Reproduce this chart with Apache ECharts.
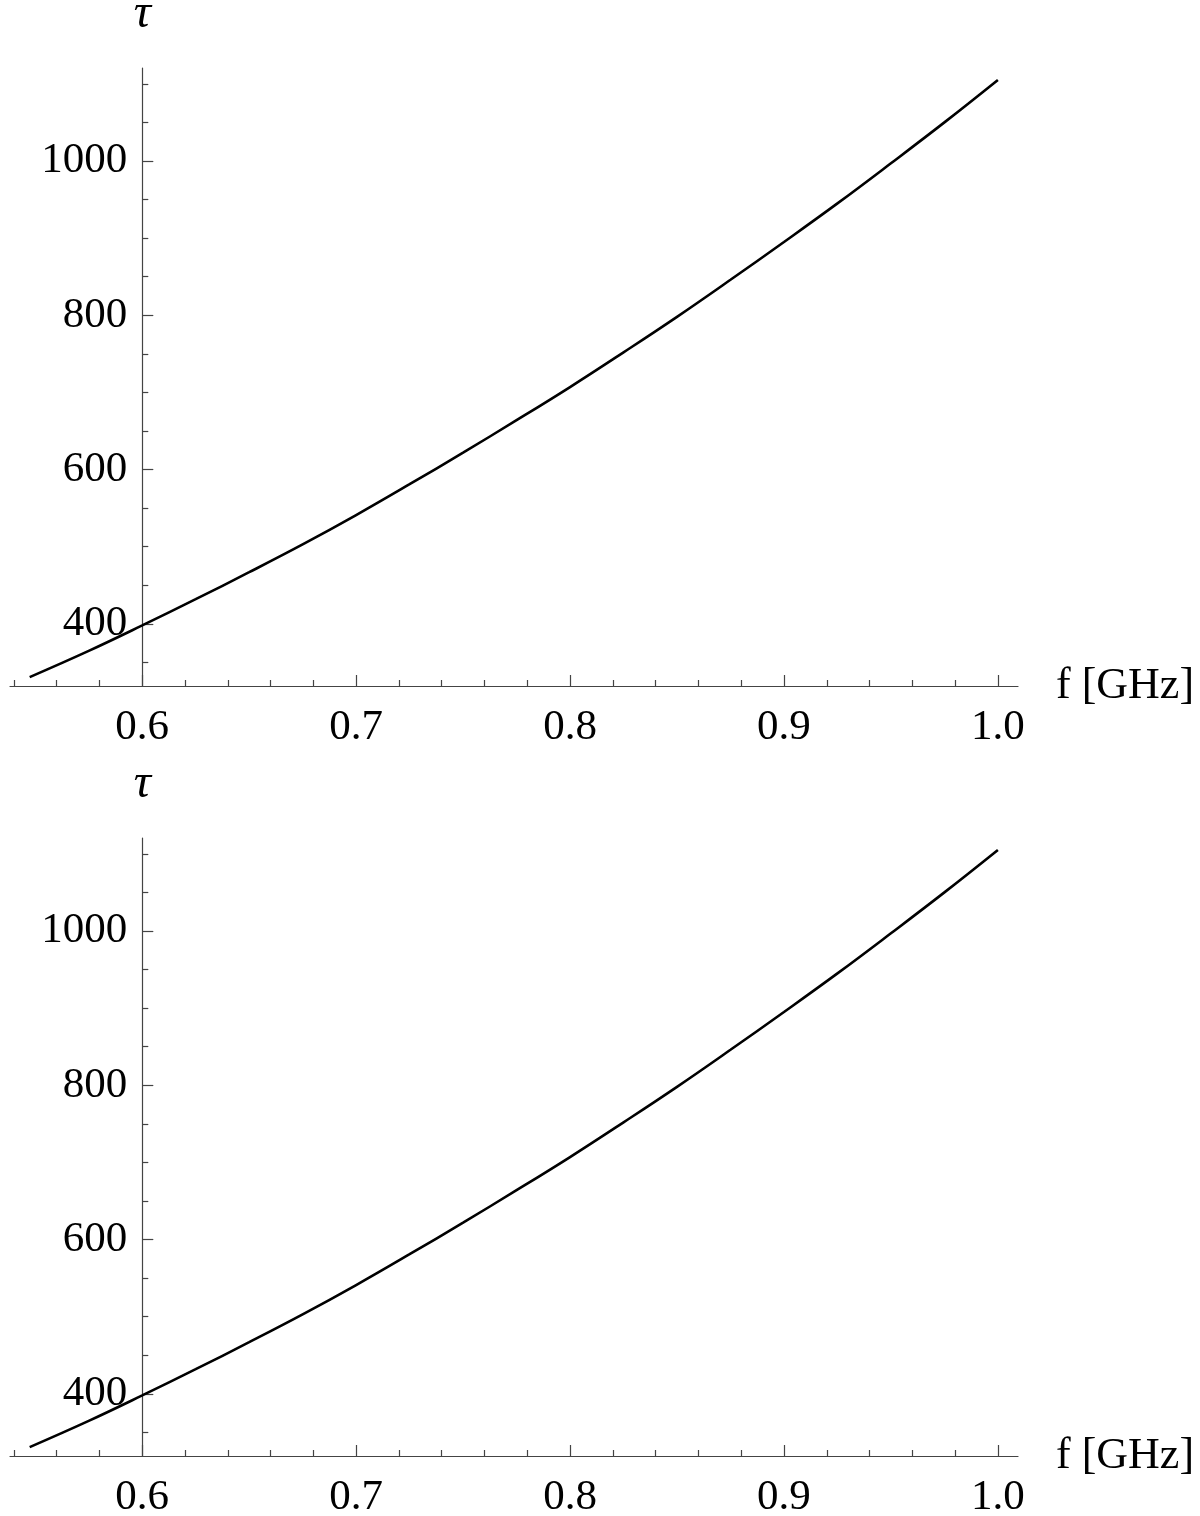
<!DOCTYPE html>
<html>
<head>
<meta charset="utf-8">
<script src="https://cdn.jsdelivr.net/npm/echarts@6/dist/echarts.min.js"></script>
<style>html,body{margin:0;padding:0;background:#fff}#c{width:1200px;height:1516px}</style>
</head>
<body>
<div id="c"></div>
<script>
// Data (both panels show the same curve)
const freq = [0.5474, 0.575, 0.6, 0.625, 0.65, 0.675, 0.7, 0.725, 0.75, 0.775, 0.8, 0.825, 0.85, 0.875, 0.9, 0.925, 0.95, 0.975, 1.0];
const tau  = [331, 365, 398, 432, 467, 503, 541, 581, 622, 664, 707, 752, 798, 846, 895, 945, 997, 1050, 1105];
const xMajorTicks = [0.6, 0.7, 0.8, 0.9, 1.0];
const xMinorTicks = [0.54, 0.56, 0.58, 0.62, 0.64, 0.66, 0.68, 0.72, 0.74, 0.76, 0.78, 0.82, 0.84, 0.86, 0.88, 0.92, 0.94, 0.96, 0.98];
const yMajorTicks = [400, 600, 800, 1000];
const yMinorTicks = [350, 450, 500, 550, 650, 700, 750, 850, 900, 950, 1050, 1100];
const xName = 'f [GHz]';
const yName = 'τ';

const X_MIN = 0.5382, X_MAX = 1.0094, Y_MIN = 319.5, Y_MAX = 1120.5;
const FONT = 'Liberation Serif';
const AX = '#444';
const gridLeft = 10, gridRight = 182, gridH = 618;
const gridTops = [68, 838];
const yOffset = -132.3;

const points = freq.map((f, i) => [f, tau[i]]);

const grids = [], xAxes = [], yAxes = [], series = [];
gridTops.forEach((top, g) => {
  grids.push({ left: gridLeft, right: gridRight, top: top, height: gridH, containLabel: false, outerBoundsMode: 'none' });
  xAxes.push({
    type: 'value', gridIndex: g, min: X_MIN, max: X_MAX, position: 'bottom',
    name: xName, nameLocation: 'end', nameGap: 38,
    nameTextStyle: { fontFamily: FONT, fontSize: 44, color: '#000' },
    axisLine: { show: true, lineStyle: { color: AX, width: 1.2 } },
    axisTick: { show: true, inside: true, length: 11, lineStyle: { color: AX, width: 1.2 }, customValues: xMajorTicks },
    axisLabel: { show: true, margin: 20, fontFamily: FONT, fontSize: 43, color: '#000', customValues: xMajorTicks,
      formatter: v => v.toFixed(1) },
    splitLine: { show: false }
  });
  xAxes.push({
    type: 'value', gridIndex: g, min: X_MIN, max: X_MAX, position: 'bottom',
    axisLine: { show: false },
    axisTick: { show: true, inside: true, length: 6, lineStyle: { color: AX, width: 1.2 }, customValues: xMinorTicks },
    axisLabel: { show: false },
    splitLine: { show: false }
  });
  yAxes.push({
    type: 'value', gridIndex: g, min: Y_MIN, max: Y_MAX, position: 'left', offset: yOffset,
    name: yName, nameLocation: 'end', nameGap: 30,
    nameTextStyle: { fontFamily: FONT, fontSize: 48, fontStyle: 'italic', color: '#000', align: 'center' },
    axisLine: { show: true, lineStyle: { color: AX, width: 1.2 } },
    axisTick: { show: true, inside: true, length: 11, lineStyle: { color: AX, width: 1.2 }, customValues: yMajorTicks },
    axisLabel: { show: true, margin: 15, fontFamily: FONT, fontSize: 43, color: '#000', customValues: yMajorTicks,
      formatter: v => String(v) },
    splitLine: { show: false }
  });
  yAxes.push({
    type: 'value', gridIndex: g, min: Y_MIN, max: Y_MAX, position: 'left', offset: yOffset,
    axisLine: { show: false },
    axisTick: { show: true, inside: true, length: 6, lineStyle: { color: AX, width: 1.2 }, customValues: yMinorTicks },
    axisLabel: { show: false },
    splitLine: { show: false }
  });
  series.push({
    type: 'line', xAxisIndex: g * 2, yAxisIndex: g * 2, data: points,
    smooth: 0.4, showSymbol: false, symbol: 'none',
    lineStyle: { color: '#000', width: 2.6 }, z: 5, silent: true
  });
});

const chart = echarts.init(document.getElementById('c'), null, { renderer: 'canvas' });
chart.setOption({
  backgroundColor: '#fff',
  animation: false,
  grid: grids, xAxis: xAxes, yAxis: yAxes, series: series
});
</script>
</body>
</html>
